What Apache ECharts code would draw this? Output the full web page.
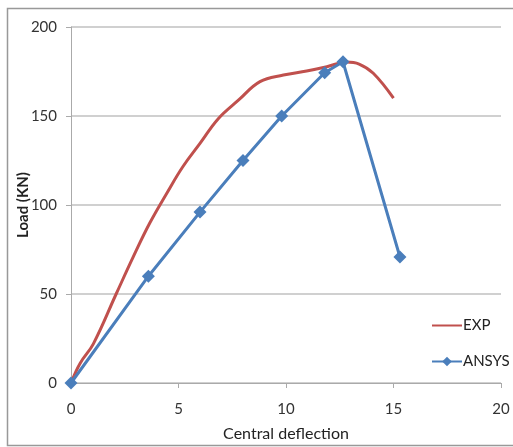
<!DOCTYPE html>
<html><head><meta charset="utf-8">
<script src="https://cdn.jsdelivr.net/npm/echarts@6/dist/echarts.min.js"></script>
<style>html,body{margin:0;padding:0;background:#fff}#c{width:513px;height:447px}</style>
</head><body><div id="c"></div>
<script>
const expX = [0, 0.42, 1.04, 2.1, 2.9, 3.67, 4.45, 5.2, 6.0, 6.85, 7.8, 8.79, 9.88, 10.96, 11.9, 12.8, 13.4, 14.06, 15.0];
const expY = [0, 11, 22, 50, 71, 90, 106.5, 121.5, 134.6, 148.5, 159, 169.3, 173, 175.3, 177.7, 180.3, 179.2, 174, 160];
const ansysX = [0, 3.6, 6.0, 8.0, 9.8, 11.8, 12.65, 15.3];
const ansysY = [0, 60, 96, 125, 150, 174.3, 180.5, 70.8];
const xTicks = [0, 5, 10, 15, 20];
const yTicks = [0, 50, 100, 150, 200];

const font = 'Lato, "Open Sans", sans-serif';
const chart = echarts.init(document.getElementById('c'));
chart.setOption({
  animation: false,
  grid: {left: 71, right: 12, top: 27, bottom: 64, containLabel: false, outerBoundsMode: 'none'},
  graphic: [{type: 'rect', shape: {x: 7.5, y: 8.5, width: 520, height: 437}, style: {fill: 'none', stroke: '#999', lineWidth: 1.5}, z: -1}],
  legend: {
    orient: 'vertical', left: 426, top: 313, itemWidth: 30, itemHeight: 12, itemGap: 21,
    textStyle: {fontFamily: font, fontSize: 15, color: '#222', padding: [0, 0, 0, -4]},
    data: [{name: 'EXP', itemStyle: {opacity: 0}}, 'ANSYS']
  },
  xAxis: {
    type: 'value', min: 0, max: 20, interval: 5,
    name: 'Central deflection', nameLocation: 'middle', nameGap: 43, nameMoveOverlap: false,
    nameTextStyle: {fontFamily: font, fontSize: 16, color: '#222'},
    axisLine: {show: true, lineStyle: {color: '#aaa', width: 1}},
    axisTick: {show: true, length: 5, lineStyle: {color: '#aaa'}},
    axisLabel: {fontFamily: font, fontSize: 15, color: '#333', margin: 19,
      formatter: v => xTicks.includes(v) ? String(v) : ''},
    splitLine: {show: false}
  },
  yAxis: {
    type: 'value', min: 0, max: 200, interval: 50,
    name: 'Load (KN)', nameLocation: 'middle', nameGap: 40, nameRotate: 90, nameMoveOverlap: false,
    nameTextStyle: {fontFamily: font, fontSize: 15, fontWeight: 'bold', color: '#222'},
    axisLine: {show: true, lineStyle: {color: '#aaa', width: 1}},
    axisTick: {show: true, length: 5, lineStyle: {color: '#aaa'}},
    axisLabel: {fontFamily: font, fontSize: 15, color: '#333', margin: 14,
      formatter: v => yTicks.includes(v) ? String(v) : ''},
    splitLine: {show: true, lineStyle: {color: '#c0c0c0', width: 1.5}}
  },
  series: [
    {name: 'EXP', type: 'line', smooth: 0.4, symbol: 'none',
      data: expX.map((x, i) => [x, expY[i]]),
      lineStyle: {color: '#c0504d', width: 3}, itemStyle: {color: '#c0504d'}, z: 2},
    {name: 'ANSYS', type: 'line', symbol: 'diamond', symbolSize: 13,
      data: ansysX.map((x, i) => [x, ansysY[i]]),
      lineStyle: {color: '#4a7ebb', width: 3}, itemStyle: {color: '#4a7ebb'}, z: 3}
  ]
});
</script></body></html>
